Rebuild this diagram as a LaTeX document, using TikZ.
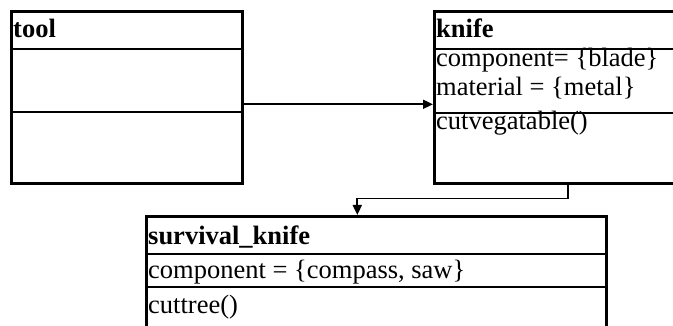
\documentclass[tikz,border=0pt]{standalone}
\usepackage{fontspec}
\setmainfont{Liberation Serif}
\usetikzlibrary{arrows.meta}
\tikzset{
  classbox/.style={draw, line width=2.6pt, anchor=north west, inner sep=0pt},
  divider/.style={line width=2.4pt},
  label/.style={anchor=base west, inner sep=0pt, font=\fontsize{26.5}{30}\selectfont},
  title/.style={label, font=\fontsize{26.5}{30}\selectfont\bfseries},
  link/.style={line width=1.8pt, -{Triangle[length=10pt,width=9pt]}}
}
\begin{document}
\begin{tikzpicture}[x=1pt,y=-1pt]
\useasboundingbox (0,0) rectangle (673,326);
\clip (0,0) rectangle (673,326);
% class boxes
\node[classbox, minimum width=231pt, minimum height=172pt] (tool) at (10,10) {};
\node[classbox, minimum width=268pt, minimum height=172pt] (knife) at (433,10) {};
\node[classbox, minimum width=460pt, minimum height=140pt] (survival) at (145,215) {};
% compartment lines
\draw[divider] (10,49) -- (241,49);
\draw[divider] (10,112) -- (241,112);
\draw[divider] (433,49) -- (701,49);
\draw[divider] (433,113) -- (701,113);
\draw[divider] (145,254) -- (605,254);
\draw[divider] (145,287) -- (605,287);
% texts
\node[title] (tooltitle) at (13,38) {tool};
\node[title] (knifetitle) at (436,38) {knife};
\node[label] (kattr1) at (436,67) {component= \{blade\}};
\node[label] (kattr2) at (436,96) {material = \{metal\}};
\node[label] (kop) at (436,130) {cutvegatable()};
\node[title] (survtitle) at (148,245) {survival\_knife};
\node[label] (sattr) at (148,279) {component = \{compass, saw\}};
\node[label] (sop) at (148,313) {cuttree()};
% relations
\draw[link] ([yshift=-7pt]tool.east) -- ([yshift=-7pt]knife.west);
\draw[link] (knife.south) -- ++(0,14) -| ([xshift=-19pt]survival.north);
\end{tikzpicture}
\end{document}
